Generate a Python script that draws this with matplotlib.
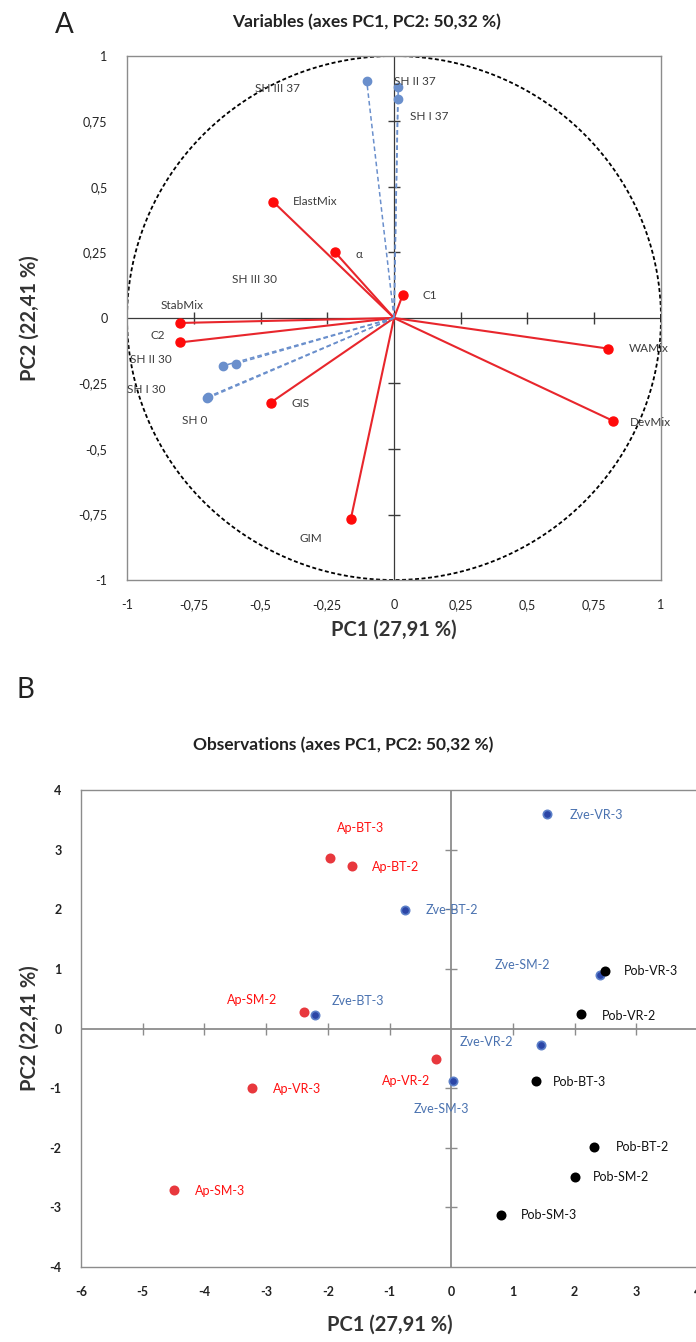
import numpy as np
import matplotlib
matplotlib.use("Agg")
import matplotlib.pyplot as plt

plt.rcParams["font.family"] = ["Lato", "DejaVu Sans"]

# --- Panel A: variables (correlation circle) ---
var_names = ["ElastMix", "α", "C1", "StabMix", "C2", "GIS", "GIM", "WAMix", "DevMix",
             "SH III 37", "SH II 37", "SH I 37", "SH III 30", "SH II 30", "SH I 30", "SH 0"]
var_pc1 = [-0.452, -0.221, 0.033, -0.80, -0.80, -0.462, -0.162, 0.803, 0.819,
           -0.102, 0.016, 0.014, -0.593, -0.642, -0.695, -0.70]
var_pc2 = [0.443, 0.251, 0.089, -0.019, -0.093, -0.323, -0.768, -0.117, -0.392,
           0.903, 0.881, 0.836, -0.175, -0.183, -0.300, -0.307]
var_kind = ["mix"] * 9 + ["sh"] * 7

# label offsets in pixels (dx, dy) from each point
var_offsets = {"ElastMix": (20, 0), "α": (20, -2), "C1": (20, -1), "StabMix": (-20, 17),
               "C2": (-30, 7), "GIS": (21, -1), "GIM": (-51, -19), "WAMix": (20, 0),
               "DevMix": (17, -2), "SH III 37": (-112, -7), "SH II 37": (-4, 6),
               "SH I 37": (12, -18), "SH III 30": (-4, 84), "SH II 30": (-93, 6),
               "SH I 30": (-81, 7), "SH 0": (-25, -22)}

# --- Panel B: observations ---
obs_names = ["Ap-BT-3", "Ap-BT-2", "Ap-SM-2", "Ap-VR-2", "Ap-VR-3", "Ap-SM-3",
             "Zve-VR-3", "Zve-BT-2", "Zve-SM-2", "Zve-BT-3", "Zve-VR-2", "Zve-SM-3",
             "Pob-VR-3", "Pob-VR-2", "Pob-BT-3", "Pob-BT-2", "Pob-SM-2", "Pob-SM-3"]
obs_pc1 = [-1.96, -1.60, -2.38, -0.24, -3.23, -4.50,
           1.56, -0.75, 2.41, -2.21, 1.46, 0.03,
           2.49, 2.11, 1.37, 2.32, 2.01, 0.80]
obs_pc2 = [2.86, 2.72, 0.27, -0.51, -1.00, -2.71,
           3.60, 1.98, 0.90, 0.23, -0.27, -0.88,
           0.97, 0.24, -0.88, -1.99, -2.49, -3.12]
obs_group = ["Ap"] * 6 + ["Zve"] * 6 + ["Pob"] * 6

obs_offsets = {"Ap-BT-3": (7, 30), "Ap-BT-2": (19, -1), "Ap-SM-2": (-77, 12),
               "Ap-VR-2": (-54, -22), "Ap-VR-3": (21, -1), "Ap-SM-3": (21, -1),
               "Zve-VR-3": (22, -1), "Zve-BT-2": (21, 0), "Zve-SM-2": (-105, 10),
               "Zve-BT-3": (17, 14), "Zve-VR-2": (-82, 3), "Zve-SM-3": (-39, -28),
               "Pob-VR-3": (19, 0), "Pob-VR-2": (20, -2), "Pob-BT-3": (17, -1),
               "Pob-BT-2": (22, 0), "Pob-SM-2": (18, 0), "Pob-SM-3": (20, 0)}

xticks_a = [-1, -0.75, -0.5, -0.25, 0, 0.25, 0.5, 0.75, 1]
yticks_a = [-1, -0.75, -0.5, -0.25, 0, 0.25, 0.5, 0.75, 1]
xticks_b = [-6, -5, -4, -3, -2, -1, 0, 1, 2, 3, 4]
yticks_b = [-4, -3, -2, -1, 0, 1, 2, 3, 4]


def frame(ax, xt, yt, spine_col, zero_col, zero_lw, tick_fmt, tick_col, weight):
    for s in ax.spines.values():
        s.set_color(spine_col)
        s.set_linewidth(1.0)
    ax.set_xticks(xt)
    ax.set_yticks(yt)
    ax.set_xticklabels([tick_fmt(v) for v in xt], fontweight=weight)
    ax.set_yticklabels([tick_fmt(v) for v in yt], fontweight=weight)
    ax.tick_params(length=0, pad=14, labelsize=9, colors=tick_col)
    ax.axhline(0, color=zero_col, lw=zero_lw, zorder=1)
    ax.axvline(0, color=zero_col, lw=zero_lw, zorder=1)
    inner_x = [v for v in xt if v not in (0, xt[0], xt[-1])]
    inner_y = [v for v in yt if v not in (0, yt[0], yt[-1])]
    ax.plot(inner_x, [0] * len(inner_x), ls="none", marker="|", ms=8,
            mew=1.0, color=zero_col, zorder=1)
    ax.plot([0] * len(inner_y), inner_y, ls="none", marker="_", ms=8,
            mew=1.0, color=zero_col, zorder=1)


fig = plt.figure(figsize=(6.96, 13.42), dpi=100)

# ---------- A ----------
ax1 = fig.add_axes([0.1825, 0.5678, 0.7672, 0.3905])
ax1.set_xlim(-1, 1)
ax1.set_ylim(-1, 1)
frame(ax1, xticks_a, yticks_a, "#8c8c8c", "#3a3a3a", 0.9,
      lambda v: ("%g" % v).replace(".", ","), "#222222", "normal")

t = np.linspace(0, 2 * np.pi, 400)
ax1.plot(np.cos(t), np.sin(t), color="black", lw=1.3, ls=(0, (2.2, 1.4)), zorder=2)

for name, x, y, k in zip(var_names, var_pc1, var_pc2, var_kind):
    if k == "mix":
        ax1.plot([0, x], [0, y], color="#e8262c", lw=1.5, zorder=3)
        ax1.plot(x, y, "o", color="#ff0a0a", ms=6.5, zorder=4)
    else:
        ax1.plot([0, x], [0, y], color="#6a8fcc", lw=1.1, ls=(0, (3, 2)), zorder=3)
        ax1.plot(x, y, "o", color="#6a8fcc", ms=6, zorder=4)
    dx, dy = var_offsets[name]
    ax1.annotate(name, (x, y), xytext=(dx, dy), textcoords="offset pixels",
                 ha="left", va="center", fontsize=8.5, color="#3c3c3c", zorder=5)

fig.text(0.092, 0.9814, "A", fontsize=20, ha="center", va="center", color="#222222")
fig.text(0.527, 0.9836, "Variables (axes PC1, PC2: 50,32 %)", fontsize=12.5,
         fontweight="bold", ha="center", va="center", color="#222222")
fig.text(0.566, 0.5306, "PC1 (27,91 %)", fontsize=14.5, fontweight="bold",
         ha="center", va="center", color="#333333")
fig.text(0.043, 0.763, "PC2 (22,41 %)", fontsize=14.5, fontweight="bold",
         rotation=90, ha="center", va="center", color="#333333")

# ---------- B ----------
ax2 = fig.add_axes([0.1164, 0.0559, 0.8865, 0.3554])
ax2.set_xlim(-6, 4)
ax2.set_ylim(-4, 4)
frame(ax2, xticks_b, yticks_b, "#8c8c8c", "#8c8c8c", 1.3,
      lambda v: "%d" % v, "#222222", "bold")

dot_col = {"Ap": "#e8383d", "Zve": "#2b45a6", "Pob": "#000000"}
edge_col = {"Ap": "#e8383d", "Zve": "#5b7fc8", "Pob": "#000000"}
txt_col = {"Ap": "#ff1010", "Zve": "#4a72b0", "Pob": "#111111"}

for name, x, y, g in zip(obs_names, obs_pc1, obs_pc2, obs_group):
    ax2.plot(x, y, "o", color=dot_col[g], mec=edge_col[g], mew=1.2, ms=6, zorder=4)
    dx, dy = obs_offsets[name]
    ax2.annotate(name, (x, y), xytext=(dx, dy), textcoords="offset pixels",
                 ha="left", va="center", fontsize=9, color=txt_col[g], zorder=5)

fig.text(0.036, 0.486, "B", fontsize=20, ha="center", va="center", color="#222222")
fig.text(0.493, 0.445, "Observations (axes PC1, PC2: 50,32 %)", fontsize=12.5,
         fontweight="bold", ha="center", va="center", color="#222222")
fig.text(0.560, 0.0127, "PC1 (27,91 %)", fontsize=14.5, fontweight="bold",
         ha="center", va="center", color="#333333")
fig.text(0.043, 0.234, "PC2 (22,41 %)", fontsize=14.5, fontweight="bold",
         rotation=90, ha="center", va="center", color="#333333")

fig.savefig("out.png", dpi=100)
